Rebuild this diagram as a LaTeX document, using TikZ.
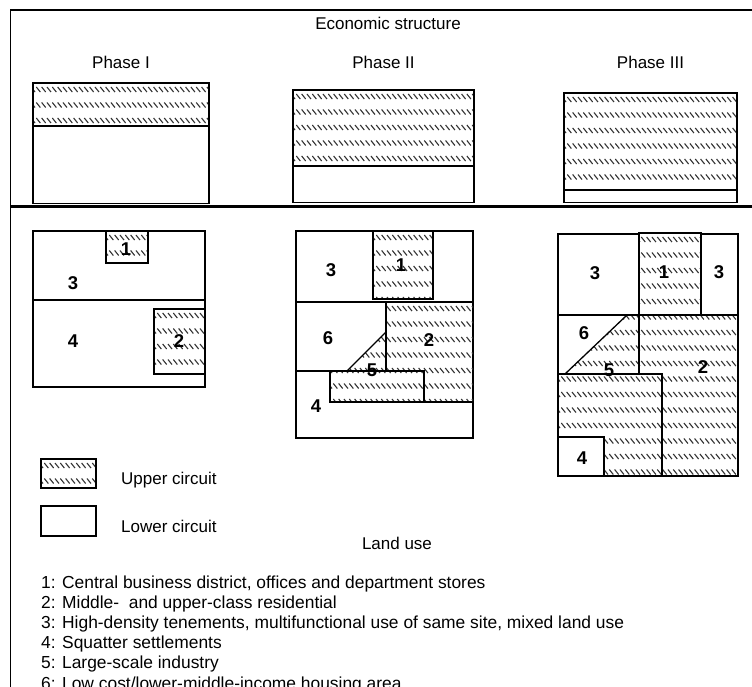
\documentclass[tikz,border=0pt]{standalone}
\usepackage{fontspec}
\setmainfont{Liberation Sans}
\tikzset{
  frameline/.style={line width=1.3pt, black},
  boxline/.style={draw=black, line width=1.3pt},
  hatchdash/.style={line width=1.1pt, black!80, line cap=butt},
  lbl/.style={font=\fontsize{17}{20}\selectfont, inner sep=0pt},
  lst/.style={font=\fontsize{17.4}{20}\selectfont, inner sep=0pt, anchor=base west},
  num/.style={font=\fontsize{18.5}{20}\selectfont\bfseries, inner sep=0pt},
}
% #1 x1, #2 y1, #3 x2, #4 y2 (bounds), #5 clip path
\newcommand\hatcharea[5]{%
  \begin{scope}
    \clip #5;
    \pgfmathtruncatemacro\nrows{(#4-#2)/15.5}%
    \pgfmathtruncatemacro\ncols{(#3-#1)/5.33+1}%
    \foreach \r in {0,...,\nrows}{%
      \foreach \c in {0,...,\ncols}{%
        \draw[hatchdash] ({#1-2+\c*5.33},{#2+4+\r*15.5}) -- ++(4,5);
      }
    }
  \end{scope}}
\begin{document}
\begin{tikzpicture}[x=1pt,y=-1pt]
\useasboundingbox (0,0) rectangle (752,686);
\clip (0,0) rectangle (752,686);
\fill[white] (0,0) rectangle (752,686);
% frame
\draw[frameline] (10.5,690) -- (10.5,10) -- (755,10);
\draw[line width=2.4pt] (10.5,206.5) -- (755,206.5);

% titles
\node[lbl, anchor=base] (econ) at (388,29) {Economic structure};
\node[lbl, anchor=base] (ph1) at (121,68) {Phase I};
\node[lbl, anchor=base] (ph2) at (383.5,68) {Phase II};
\node[lbl, anchor=base] (ph3) at (650.5,68) {Phase III};

% economic structure boxes
\hatcharea{33}{83}{209}{126}{(33,83) rectangle (209,126)}
\draw[boxline] (33,83) rectangle (209,203.5);
\draw[boxline] (33,126) -- (209,126);

\hatcharea{293}{90}{474}{166}{(293,90) rectangle (474,166)}
\draw[boxline] (293,90) rectangle (474,202.5);
\draw[boxline] (293,166) -- (474,166);

\hatcharea{564}{93}{737}{190}{(564,93) rectangle (737,190)}
\draw[boxline] (564,93) rectangle (737,202.5);
\draw[boxline] (564,190) -- (737,190);

% ---------- land use Phase I ----------
\draw[boxline] (33,231) rectangle (205,387);
\draw[boxline] (33,300) -- (205,300);
\hatcharea{106}{231}{148}{263}{(106,231) rectangle (148,263)}
\draw[boxline] (106,231) rectangle (148,263);
\hatcharea{154}{309}{205}{374}{(154,309) rectangle (205,374)}
\draw[boxline] (154,309) rectangle (205,374);
\node[num] (a1) at (126,249) {1};
\node[num] (a3) at (73,283) {3};
\node[num] (a4) at (73,341) {4};
\node[num] (a2) at (179,341) {2};

% ---------- land use Phase II ----------
\draw[boxline] (296,231) rectangle (473,438);
\draw[boxline] (296,302) -- (473,302);
\hatcharea{373}{231}{433}{299}{(373,231) rectangle (433,299)}
\draw[boxline] (373,231) rectangle (433,299);
\hatcharea{330}{302}{473}{402}{(386,302) -- (473,302) -- (473,402) -- (330,402) -- (330,371) -- (347,371) -- (386,332) -- cycle}
\draw[boxline] (386,302) -- (386,371);
\draw[boxline] (424,402) -- (473,402);
\draw[boxline] (330,371) rectangle (424,402);
\draw[boxline] (296,371) -- (330,371);
\draw[boxline] (347,371) -- (386,332);
\node[num] (b3) at (331,270) {3};
\node[num] (b1) at (401,265) {1};
\node[num] (b6) at (328,338) {6};
\node[num] (b2) at (429,340) {2};
\node[num] (b5) at (372,370) {5};
\node[num] (b4) at (316,406) {4};

% ---------- land use Phase III ----------
\hatcharea{558}{233}{738}{476}{(639,233) -- (701,233) -- (701,315) -- (738,315) -- (738,476) -- (558,476) -- (558,374) -- (565,374) -- (627,315) -- (639,315) -- cycle}
\draw[boxline] (558,234) rectangle (639,315);
\draw[boxline] (639,233) rectangle (701,315);
\draw[boxline] (701,234) rectangle (738,315);
\draw[boxline] (639,374) -- (639,315) -- (738,315) -- (738,476) -- (662,476);
\draw[boxline] (558,315) -- (558,374);
\draw[boxline] (565,374) -- (627,315);
\draw[boxline] (558,374) rectangle (662,476);
\draw[boxline, fill=white] (558,437) rectangle (604,476);
\node[num] (c3) at (595,273) {3};
\node[num] (c1) at (664,272) {1};
\node[num] (c3b) at (719,272) {3};
\node[num] (c6) at (584,333) {6};
\node[num] (c5) at (609,370) {5};
\node[num] (c2) at (703,367) {2};
\node[num] (c4) at (582,458) {4};

% ---------- legend ----------
\hatcharea{41}{459}{96}{488}{(41,459) rectangle (96,488)}
\draw[boxline] (41,459) rectangle (96,488);
\node[lbl, anchor=base west] (up) at (121,484) {Upper circuit};
\draw[boxline] (41,506) rectangle (96,536);
\node[lbl, anchor=base west] (lo) at (121,532) {Lower circuit};
\node[lbl, anchor=base] (land) at (397,549) {Land use};

\node[lst] (l1) at (41,588) {1: Central business district, offices and department stores};
\node[lst] (l2) at (41,608) {2: Middle-\ \ and upper-class residential};
\node[lst] (l3) at (41,628) {3: High-density tenements, multifunctional use of same site, mixed land use};
\node[lst] (l4) at (41,648) {4: Squatter settlements};
\node[lst] (l5) at (41,668) {5: Large-scale industry};
\node[lst] (l6) at (41,689) {6: Low cost/lower-middle-income housing area};
\end{tikzpicture}
\end{document}
